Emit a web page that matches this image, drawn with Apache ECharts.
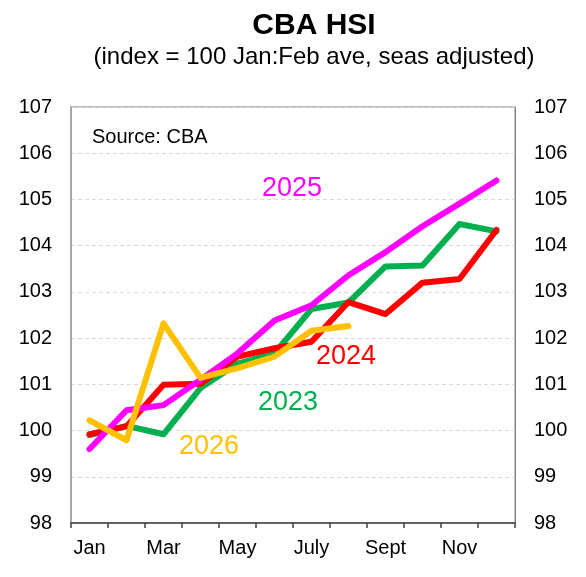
<!DOCTYPE html>
<html>
<head>
<meta charset="utf-8">
<script src="https://cdn.jsdelivr.net/npm/echarts@6/dist/echarts.min.js"></script>
<style>
html,body{margin:0;padding:0;background:#fff;}
#c{width:586px;height:577px;}
</style>
</head>
<body>
<div id="c"></div>
<script>
const months = ['Jan','Feb','Mar','Apr','May','June','July','Aug','Sept','Oct','Nov','Dec'];
const yTicks = [98, 99, 100, 101, 102, 103, 104, 105, 106, 107];
const s2023 = [99.9, 100.1, 99.92, 100.92, 101.45, 101.67, 102.63, 102.77, 103.55, 103.57, 104.47, 104.31];
const s2024 = [99.92, 100.09, 100.99, 101.01, 101.6, 101.78, 101.92, 102.78, 102.52, 103.2, 103.28, 104.34];
const s2025 = [99.6, 100.44, 100.55, 101.1, 101.67, 102.38, 102.71, 103.36, 103.86, 104.42, 104.91, 105.41];
const s2026 = [100.22, 99.79, 102.32, 101.14, 101.35, 101.6, 102.16, 102.26];

const FONT = 'Liberation Sans, Arial, sans-serif';
const C23 = '#00B050', C24 = '#FF0000', C25 = '#FF00FF', C26 = '#FFC000';

const chart = echarts.init(document.getElementById('c'), null, {renderer: 'canvas'});

function line(name, data, color) {
  return {
    name: name, type: 'line', data: data, symbol: 'none', smooth: false,
    yAxisIndex: 0,
    lineStyle: {color: color, width: 6, cap: 'round', join: 'round'},
    itemStyle: {color: color},
    emphasis: {disabled: true},
    animation: false
  };
}

const yBase = {
  type: 'value', min: yTicks[0], max: yTicks[yTicks.length - 1], interval: 1,
  axisTick: {show: false},
  axisLabel: {color: '#000', fontSize: 20, fontFamily: FONT, margin: 19}
};

chart.setOption({
  animation: false,
  backgroundColor: '#fff',
  grid: {left: 71, right: 71, top: 107, bottom: 54, show: true, borderColor: '#808080', borderWidth: 1, containLabel: false},
  xAxis: {
    type: 'category', data: months, boundaryGap: true,
    axisLine: {show: true, lineStyle: {color: '#404040', width: 1.5}},
    axisTick: {show: true, interval: 0, length: 5, inside: false, lineStyle: {color: '#404040', width: 1.5}},
    axisLabel: {interval: 1, color: '#000', fontSize: 20, fontFamily: FONT, margin: 15},
    splitLine: {show: false}
  },
  yAxis: [
    Object.assign({}, yBase, {
      position: 'left',
      axisLine: {show: true, lineStyle: {color: '#A6A6A6', width: 2}},
      splitLine: {show: true, lineStyle: {color: '#D9D9D9', type: [4, 3], width: 1}}
    }),
    Object.assign({}, yBase, {
      position: 'right',
      axisLine: {show: true, lineStyle: {color: '#808080', width: 1}},
      splitLine: {show: false}
    })
  ],
  series: [
    line('2023', s2023, C23),
    line('2024', s2024, C24),
    line('2025', s2025, C25),
    line('2026', s2026, C26)
  ],
  graphic: [
    {type: 'text', x: 314, y: 26, style: {text: 'CBA HSI', fill: '#000', font: 'bold 30px ' + FONT, textAlign: 'center', textVerticalAlign: 'middle'}},
    {type: 'text', x: 314, y: 57, style: {text: '(index = 100 Jan:Feb ave, seas adjusted)', fill: '#000', font: '24px ' + FONT, textAlign: 'center', textVerticalAlign: 'middle'}},
    {type: 'text', x: 92, y: 137, style: {text: 'Source: CBA', fill: '#000', font: '20px ' + FONT, textAlign: 'left', textVerticalAlign: 'middle'}},
    {type: 'text', x: 292, y: 189, style: {text: '2025', fill: C25, font: '27px ' + FONT, textAlign: 'center', textVerticalAlign: 'middle'}},
    {type: 'text', x: 346, y: 357, style: {text: '2024', fill: C24, font: '27px ' + FONT, textAlign: 'center', textVerticalAlign: 'middle'}},
    {type: 'text', x: 288, y: 403, style: {text: '2023', fill: C23, font: '27px ' + FONT, textAlign: 'center', textVerticalAlign: 'middle'}},
    {type: 'text', x: 209, y: 447, style: {text: '2026', fill: C26, font: '27px ' + FONT, textAlign: 'center', textVerticalAlign: 'middle'}}
  ]
});
</script>
</body>
</html>
